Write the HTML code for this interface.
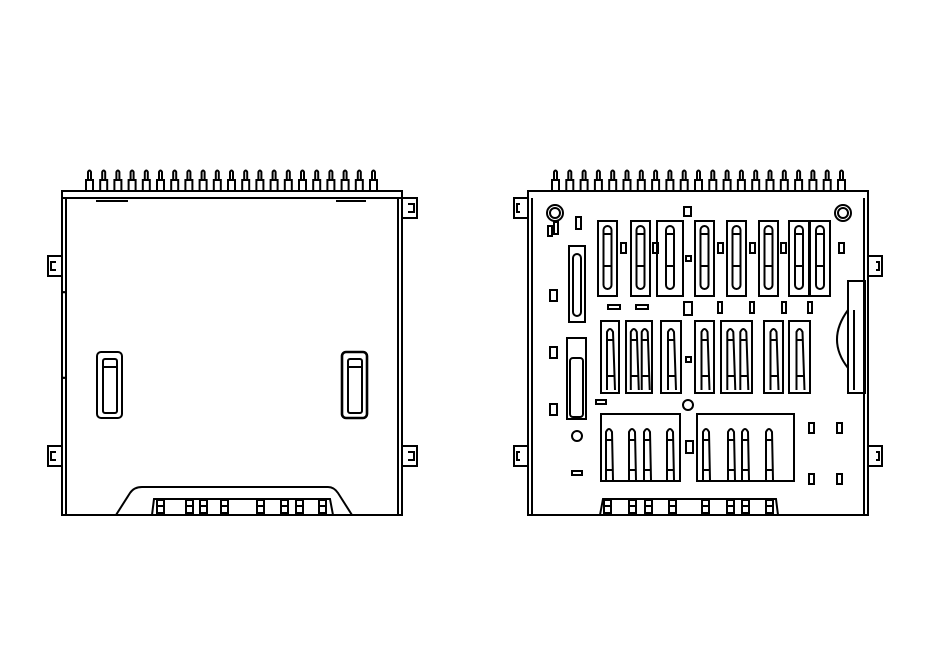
<!DOCTYPE html>
<html><head><meta charset="utf-8"><style>html,body{margin:0;padding:0;background:#fff}svg{display:block}</style></head>
<body>
<svg id="s" width="934" height="650" viewBox="0 0 934 650" xmlns="http://www.w3.org/2000/svg" fill="none" stroke="#000" stroke-width="2">
<rect x="62" y="191" width="340" height="324"/>
<line x1="62" y1="198" x2="402" y2="198"/>
<line x1="66" y1="198" x2="66" y2="515"/>
<line x1="398" y1="198" x2="398" y2="515"/>
<rect x="62" y="292" width="4" height="86" rx="2"/>
<path d="M62 256 H48 V276 H62 M56 262 H51 V270 H56"/>
<path d="M62 446 H48 V466 H62 M56 452 H51 V460 H56"/>
<path d="M402 198 H417 V218 H402 M408 204 H414 V212 H408"/>
<path d="M402 446 H417 V466 H402 M408 452 H414 V460 H408"/>
<rect x="97" y="352" width="25" height="66" rx="4"/>
<rect x="103" y="359" width="14" height="54" rx="2"/>
<line x1="103" y1="367" x2="117" y2="367"/>
<rect x="342" y="352" width="25" height="66" rx="4" stroke-width="2.6"/>
<rect x="348" y="359" width="14" height="54" rx="2"/>
<line x1="348" y1="367" x2="362" y2="367"/>
<path d="M116 515 L130 493 Q134 487 142 487 H328 Q334 487 338 493 L352 515"/>
<path d="M152 515 L154 499 H330 L333 515"/>
<line x1="96" y1="201" x2="128" y2="201"/><line x1="336" y1="201" x2="366" y2="201"/>
<g id="lp"></g>
<rect x="528" y="191" width="340" height="324"/>
<line x1="532" y1="198" x2="532" y2="515"/>
<line x1="864" y1="198" x2="864" y2="515"/>
<path d="M528 198 H514 V218 H528 M520 204 H517 V212 H520"/>
<path d="M528 446 H514 V466 H528 M520 452 H517 V460 H520"/>
<path d="M868 256 H882 V276 H868 M876 262 H879 V270 H876"/>
<path d="M868 446 H882 V466 H868 M876 452 H879 V460 H876"/>
<circle cx="555" cy="213" r="8"/><circle cx="555" cy="213" r="5"/>
<circle cx="843" cy="213" r="8"/><circle cx="843" cy="213" r="5"/>
<circle cx="688" cy="405" r="5"/><circle cx="577" cy="436" r="5"/>
<rect x="569" y="246" width="16" height="76"/><rect x="573" y="254" width="8" height="62" rx="4"/>
<rect x="567" y="338" width="19" height="81"/><rect x="570" y="358" width="13" height="59" rx="3"/>
<rect x="848" y="281" width="17" height="112"/>
<path d="M848 310 Q826 340 848 368"/><line x1="854" y1="310" x2="854" y2="390"/>
<rect x="601" y="414" width="79" height="67"/>
<rect x="697" y="414" width="97" height="67"/>
<path d="M600 515 L603 499 H776 L778 515"/>
<g id="rp"></g>
</svg>
<script>
var ns="http://www.w3.org/2000/svg";
function el(g,t,a){var e=document.createElementNS(ns,t);for(var k in a)e.setAttribute(k,a[k]);document.getElementById(g).appendChild(e);}
for(var i=0;i<21;i++){
 var x=86+i*14.2;
 el("lp","path",{d:"M"+x+" 191 V180 H"+(x+7)+" V191 M"+(x+2)+" 180 V172 Q"+(x+3.5)+" 169 "+(x+5)+" 172 V180"});
 var x2=552+i*14.3;
 el("rp","path",{d:"M"+x2+" 191 V180 H"+(x2+7)+" V191 M"+(x2+2)+" 180 V172 Q"+(x2+3.5)+" 169 "+(x2+5)+" 172 V180"});
}
[157,186,200,221,257,281,296,319].forEach(function(x){el("lp","rect",{x:x,y:500,width:7,height:13});el("lp","line",{x1:x,y1:506,x2:x+7,y2:506});});
[604,629,645,669,702,727,742,766].forEach(function(x){el("rp","rect",{x:x,y:500,width:7,height:13});el("rp","line",{x1:x,y1:506,x2:x+7,y2:506});});
[[598,19],[631,19],[657,26],[695,19],[727,19],[759,19],[789,20],[810,20]].forEach(function(c){
 el("rp","rect",{x:c[0],y:221,width:c[1],height:75});
 var cx=c[0]+c[1]/2;
 el("rp","rect",{x:cx-4,y:226,width:8,height:63,rx:4});
 el("rp","line",{x1:cx-4,y1:234,x2:cx+4,y2:234});el("rp","line",{x1:cx-4,y1:266,x2:cx+4,y2:266});
});
[[601,18,1],[626,26,2],[661,20,1],[695,19,1],[721,31,2],[764,19,1],[789,21,1]].forEach(function(c){
 el("rp","rect",{x:c[0],y:321,width:c[1],height:72});
 for(var j=0;j<c[2];j++){var cx=c[0]+(c[2]==1?c[1]/2:(j==0?c[1]*0.3:c[1]*0.72));
  el("rp","path",{d:"M"+(cx-3)+" 390 L"+(cx-3)+" 332 Q"+cx+" 326 "+(cx+3)+" 332 L"+(cx+5)+" 390"});
  el("rp","line",{x1:cx-3,y1:340,x2:cx+3,y2:340});el("rp","line",{x1:cx-3,y1:376,x2:cx+5,y2:376});}
});
[609,632,647,670,706,731,745,769].forEach(function(cx){
 el("rp","path",{d:"M"+(cx-3)+" 480 L"+(cx-3)+" 432 Q"+cx+" 426 "+(cx+3)+" 432 L"+(cx+4)+" 480"});
 el("rp","line",{x1:cx-3,y1:440,x2:cx+3,y2:440});el("rp","line",{x1:cx-3,y1:470,x2:cx+4,y2:470});
});
[[548,226,4,10],[554,222,4,12],[576,217,5,12],[684,207,7,9],[621,243,5,10],[653,243,5,10],[686,256,5,5],[718,243,5,10],[750,243,5,10],[781,243,5,10],[839,243,5,10],
 [550,290,7,11],[608,305,12,4],[636,305,12,4],[684,302,8,13],[718,302,4,11],[750,302,4,11],[782,302,4,11],[808,302,4,11],
 [550,347,7,11],[686,357,5,5],[550,404,7,11],[596,400,10,4],[686,441,7,12],[572,471,10,4],
 [809,423,5,10],[837,423,5,10],[809,474,5,10],[837,474,5,10]].forEach(function(r){el("rp","rect",{x:r[0],y:r[1],width:r[2],height:r[3]});});
</script>
</body></html>
